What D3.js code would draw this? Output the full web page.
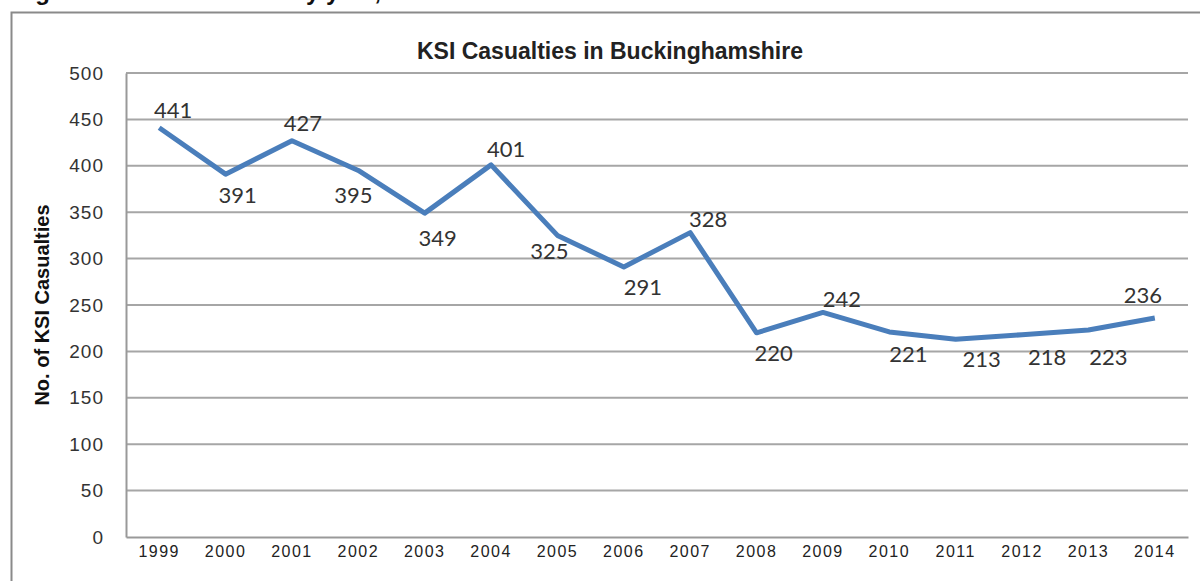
<!DOCTYPE html>
<html>
<head>
<meta charset="utf-8">
<script src="https://cdn.jsdelivr.net/npm/d3@7"></script>
<style>
  html, body { margin: 0; padding: 0; background: #fff; }
  svg { display: block; }
</style>
</head>
<body>
<div id="chart"></div>
<script>
// Chart data
const years = ["1999", "2000", "2001", "2002", "2003", "2004", "2005", "2006",
               "2007", "2008", "2009", "2010", "2011", "2012", "2013", "2014"];
const ksiCasualties = [441, 391, 427, 395, 349, 401, 325, 291, 328, 220, 242, 221, 213, 218, 223, 236];
const yTicks = [0, 50, 100, 150, 200, 250, 300, 350, 400, 450, 500];

const chartTitle = "KSI Casualties in Buckinghamshire";
const yAxisTitle = "No. of KSI Casualties";

// Layout: hand-placed data label nudges (px from each point), as in the original
const labelNudge = [
    [14, -10], [12, 29], [11, -10], [-5, 33], [13, 33], [15, -8], [-8, 24], [19, 28],
    [18, -6], [17, 28], [19, -5], [19, 30], [26, 28], [25, 30], [20, 35], [-12, -15]
];

const width = 1200, height = 581;
const margin = { top: 73, right: 12, bottom: 44, left: 126 };

const svg = d3.select("#chart").append("svg")
    .attr("width", width)
    .attr("height", height);

// cropped heading from the page above the chart
svg.append("text")
    .attr("x", 14)
    .attr("y", 0)
    .attr("font-family", "Arial, 'Liberation Sans', sans-serif")
    .attr("font-weight", "bold")
    .attr("font-size", 24)
    .attr("fill", "#111")
    .text("Figure 4: KSI casualties by year, 1999-2014");

// outer frame (only top and left edges visible)
svg.append("path")
    .attr("d", `M11.5,${height} V12.5 H${width}`)
    .attr("fill", "none")
    .attr("stroke", "#8a8a8a")
    .attr("stroke-width", 2);

const x = d3.scaleBand()
    .domain(years)
    .range([margin.left, width - margin.right]);

const y = d3.scaleLinear()
    .domain([0, 500])
    .range([height - margin.bottom, margin.top]);

// gridlines
svg.append("g")
    .selectAll("line")
    .data(yTicks.filter(d => d > 0))
    .join("line")
    .attr("x1", margin.left)
    .attr("x2", width - margin.right)
    .attr("y1", d => y(d))
    .attr("y2", d => y(d))
    .attr("stroke", "#a6a6a6")
    .attr("stroke-width", 2);

// y axis
const yAxis = svg.append("g")
    .attr("transform", `translate(${margin.left},0)`)
    .call(d3.axisLeft(y).tickValues(yTicks).tickSize(0).tickPadding(22));
yAxis.select(".domain").attr("stroke", "#999").attr("stroke-width", 2);
yAxis.selectAll("text")
    .attr("font-family", "Arial, 'Liberation Sans', sans-serif")
    .attr("font-size", 19)
    .attr("letter-spacing", 1)
    .attr("fill", "#333");

// x axis
const xAxis = svg.append("g")
    .attr("transform", `translate(0,${height - margin.bottom})`)
    .call(d3.axisBottom(x).tickSize(0).tickPadding(9));
xAxis.select(".domain").attr("stroke", "#999").attr("stroke-width", 2);
xAxis.selectAll("text")
    .attr("font-family", "Arial, 'Liberation Sans', sans-serif")
    .attr("font-size", 16)
    .attr("letter-spacing", 1.5)
    .attr("fill", "#222");

// titles
svg.append("text")
    .attr("x", 610)
    .attr("y", 59)
    .attr("text-anchor", "middle")
    .attr("font-family", "Arial, 'Liberation Sans', sans-serif")
    .attr("font-weight", "bold")
    .attr("font-size", 23)
    .attr("fill", "#222")
    .text(chartTitle);

svg.append("text")
    .attr("transform", "translate(49,305) rotate(-90)")
    .attr("text-anchor", "middle")
    .attr("font-family", "Arial, 'Liberation Sans', sans-serif")
    .attr("font-weight", "bold")
    .attr("font-size", 20)
    .attr("fill", "#111")
    .text(yAxisTitle);

// line
const points = years.map((yr, i) => ({ year: yr, value: ksiCasualties[i], nudge: labelNudge[i] }));
const line = d3.line()
    .x(d => x(d.year) + x.bandwidth() / 2)
    .y(d => y(d.value));

svg.append("path")
    .datum(points)
    .attr("d", line)
    .attr("fill", "none")
    .attr("stroke", "#4a7ebb")
    .attr("stroke-width", 5)
    .attr("stroke-linejoin", "round");

// data labels
svg.append("g")
    .selectAll("text")
    .data(points)
    .join("text")
    .attr("x", d => x(d.year) + x.bandwidth() / 2 + d.nudge[0])
    .attr("y", d => y(d.value) + d.nudge[1])
    .attr("text-anchor", "middle")
    .attr("font-family", "Lato, 'Open Sans', sans-serif")
    .attr("font-size", 22)
    .attr("fill", "#333")
    .text(d => d.value);
</script>
</body>
</html>
